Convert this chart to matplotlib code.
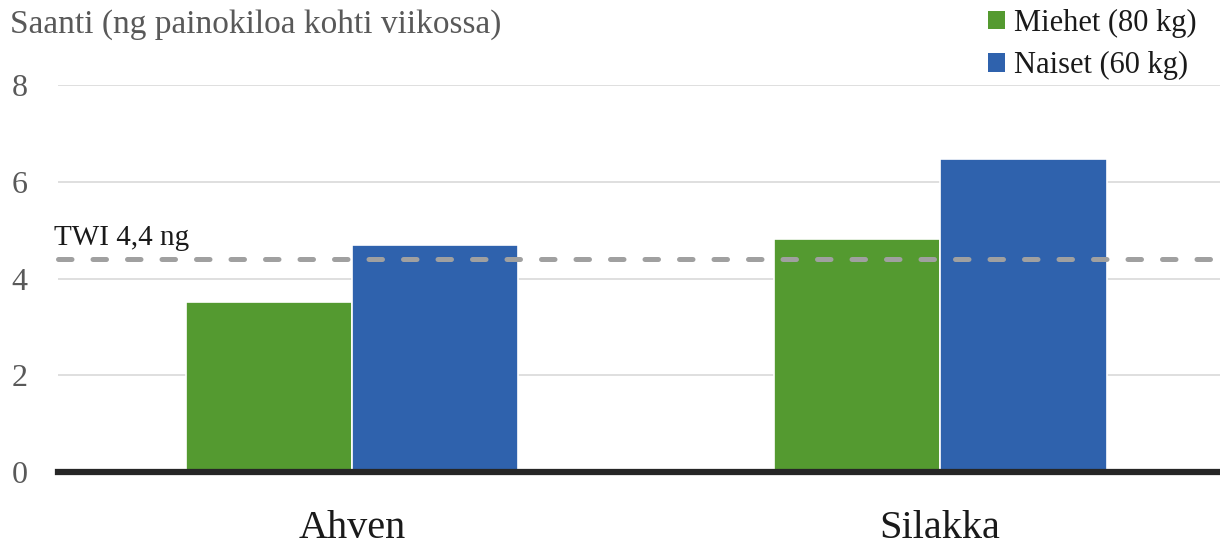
import matplotlib
matplotlib.use("Agg")
import matplotlib.pyplot as plt
from matplotlib.patches import Patch
import numpy as np

plt.rcParams['font.family'] = ['Liberation Serif', 'DejaVu Serif']

categories = ["Ahven", "Silakka"]
series_names = ["Miehet (80 kg)", "Naiset (60 kg)"]
miehet = [3.52, 4.82]
naiset = [4.70, 6.46]
twi_value = 4.4
twi_label = "TWI 4,4 ng"
y_ticks = [0, 2, 4, 6, 8]
y_title = "Saanti (ng painokiloa kohti viikossa)"

green = "#549A30"
blue = "#2F62AD"

fig = plt.figure(figsize=(12.2, 5.48), dpi=100)
ax = fig.add_axes([58 / 1220, 1 - 472 / 548, 1 - 58 / 1220, (472 - 85) / 548])

x = np.arange(len(categories))
w = 0.283
ax.bar(x - w / 2, miehet, w, color=green, edgecolor="white", linewidth=1.2, zorder=2)
ax.bar(x + w / 2, naiset, w, color=blue, edgecolor="white", linewidth=1.2, zorder=2)

ax.set_xlim(-0.5, 1.476)
ax.set_ylim(0, 8)

# gridlines and baseline
for t in y_ticks[1:]:
    ax.axhline(t, color="#D9D9D9", linewidth=1.2, zorder=1)
ax.axhline(0, color="#262626", linewidth=4.5, zorder=3, clip_on=False)

# TWI reference line
ax.axhline(twi_value, color="#A0A0A0", linewidth=3.6, dashes=(2.7, 4.2),
           dash_capstyle="round", zorder=4, clip_on=False)
ax.text(-0.506, 4.69, twi_label, fontsize=21, color="#1a1a1a",
        ha="left", va="baseline")

for s in ax.spines.values():
    s.set_visible(False)

ax.set_yticks(y_ticks)
ax.set_yticklabels([str(t) for t in y_ticks], fontsize=23, color="#595959")
ax.set_xticks(x)
ax.set_xticklabels(categories, fontsize=29, color="#1a1a1a")
ax.tick_params(axis="y", length=0, pad=22)
ax.tick_params(axis="x", length=0, pad=27)

fig.text(10 / 1220, 1 - 25 / 548, y_title, fontsize=24, color="#595959",
         ha="left", va="center")

handles = [Patch(facecolor=green, edgecolor="none"), Patch(facecolor=blue, edgecolor="none")]
fig.legend(handles, series_names, loc="upper right", bbox_to_anchor=(0.996, 1.018),
           frameon=False, fontsize=22, handlelength=0.55, handleheight=0.55,
           handletextpad=0.3, labelspacing=0.45, labelcolor="#1a1a1a",
           borderaxespad=0.2)

fig.savefig("out.png", dpi=100)
